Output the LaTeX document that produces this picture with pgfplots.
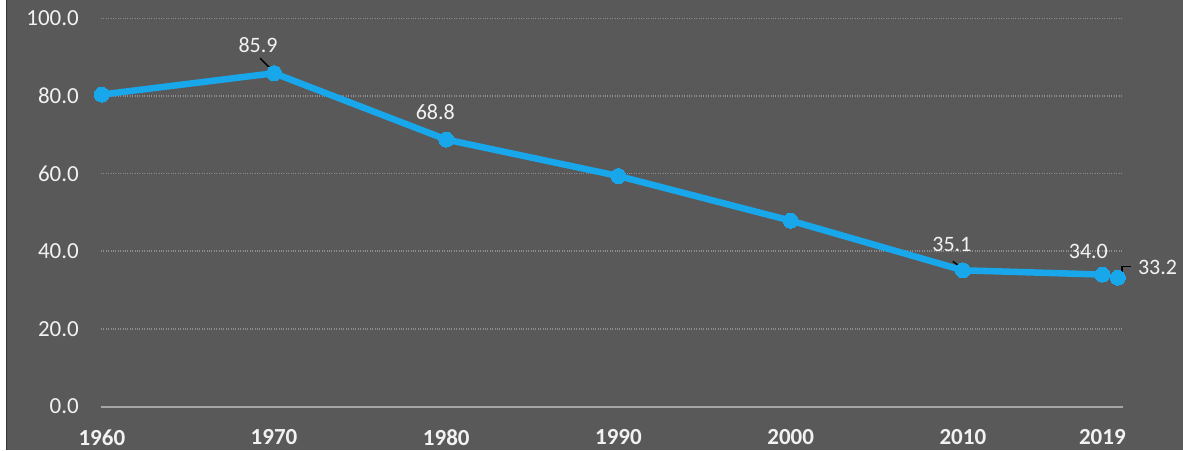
\documentclass[border=0pt]{standalone}
\usepackage{pgfplots}
\pgfplotsset{compat=1.18}
\usepackage{fontspec}
\setmainfont{Carlito}
\definecolor{bg}{HTML}{595959}
\definecolor{ser}{HTML}{19A7EC}
\definecolor{gridc}{HTML}{8E8E8E}
\definecolor{axc}{HTML}{A6A6A6}
\begin{document}
\begin{tikzpicture}[x=1pt,y=1pt]
\fill[bg] (0,0) rectangle (1183,449);
\fill[white] (0,0) rectangle (6,449);
\draw[black!80, line width=1pt] (6.5,0) -- (6.5,449);
\useasboundingbox (0,0) rectangle (1183,449);
\begin{axis}[at={(101pt,43pt)}, anchor=south west, scale only axis,
  width=1022pt, height=388pt,
  xmin=1959.95, xmax=2019.3, ymin=0, ymax=100,
  clip=false,
  axis line style={draw=none},
  major tick length=0pt,
  ytick={0,20,40,60,80,100},
  xtick={1960,1970,1980,1990,2000,2010,2018.1},
  xticklabels={1960,1970,1980,1990,2000,2010,2019},
  /pgf/number format/assume math mode=true,
  y tick label style={/pgf/number format/fixed, /pgf/number format/fixed zerofill, /pgf/number format/precision=1},
  tick label style={font=\fontsize{23}{27}\selectfont, color=white!95!black, inner sep=0pt},
  yticklabel style={anchor=east, xshift=-22pt},
  xticklabel style={anchor=center, yshift=-31pt, font=\fontsize{23}{27}\selectfont\bfseries},
  ymajorgrids, grid style={gridc, dotted, line width=1.6pt},
]
\draw[axc, line width=2pt] (axis cs:1959.95,0) -- (axis cs:2019.3,0);
\addplot[ser, line width=6.5pt, mark=*, mark size=7.5pt, mark options={fill=ser, draw=ser, line width=0pt}]
  coordinates {(1960,80.4) (1970,85.9) (1980,68.8) (1990,59.4) (2000,47.9) (2010,35.1) (2018.1,34.0)};
\addplot[only marks, mark=*, mark size=7.5pt, mark options={fill=ser, draw=ser, line width=0pt}]
  coordinates {(2019,33.2)};
\begin{scope}[every node/.style={font=\fontsize{22}{26}\selectfont, text=white!95!black, inner sep=0pt}]
\node at ([xshift=-16pt,yshift=28pt]axis cs:1970,85.9) {85.9};
\node at ([xshift=-11pt,yshift=27pt]axis cs:1980,68.8) {68.8};
\node at ([xshift=-11pt,yshift=26pt]axis cs:2010,35.1) {35.1};
\node at ([xshift=-14pt,yshift=23pt]axis cs:2018.1,34.0) {34.0};
\node[anchor=west] at ([xshift=20pt,yshift=10pt]axis cs:2019,33.2) {33.2};
\end{scope}
\draw[black, line width=1.4pt] ([xshift=-14pt,yshift=15pt]axis cs:1970,85.9) -- ([xshift=-3pt,yshift=4pt]axis cs:1970,85.9);
\draw[black, line width=1.4pt] ([xshift=-10pt,yshift=9pt]axis cs:2010,35.1) -- ([xshift=-1pt,yshift=2pt]axis cs:2010,35.1);
\draw[black, line width=1.4pt] ([xshift=4pt,yshift=3pt]axis cs:2019,33.2) -- ([xshift=4pt,yshift=11pt]axis cs:2019,33.2) -- ([xshift=13pt,yshift=11pt]axis cs:2019,33.2);
\end{axis}
\end{tikzpicture}
\end{document}
